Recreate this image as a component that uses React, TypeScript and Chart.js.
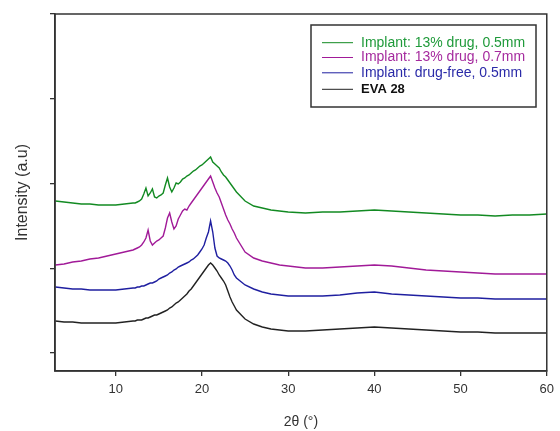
import React, { useEffect, useRef } from "react";
import { Chart, registerables } from "chart.js";

Chart.register(...registerables);

// 2θ positions (degrees)
const twoTheta = [
  3, 4, 5, 6, 7, 8, 9, 10, 11, 12,
  12.25, 12.5, 12.75, 13, 13.25, 13.5, 13.75, 14, 14.25, 14.5, 14.75, 15,
  15.25, 15.5, 15.75, 16, 16.25, 16.5, 16.75, 17, 17.25, 17.5, 17.75, 18,
  18.25, 18.5, 18.75, 19, 19.25, 19.5, 19.75, 20, 20.25, 20.5, 20.75, 21,
  21.25, 21.5, 21.75, 22, 22.25, 22.5, 22.75, 23, 23.25, 23.5, 23.75, 24,
  25, 26, 27, 28, 29, 30, 32, 34, 36, 38, 40, 42, 44, 46, 48, 50, 52, 54, 56, 58, 60,
];

// Intensities (a.u., vertically offset patterns)
const implant13_05 = [
  152, 151, 150, 149, 149, 148, 148, 148, 149, 150,
  150, 151, 152, 154, 159, 165, 157, 160, 164, 156, 155, 157,
  158, 160, 168, 175, 166, 161, 165, 170, 169, 171, 174, 175,
  177, 178, 180, 182, 183, 185, 187, 188, 190, 192, 194, 196,
  191, 189, 187, 185, 181, 178, 176, 173, 170, 167, 164, 161,
  152, 147, 145, 143, 142, 141, 140, 141, 141, 142, 143, 142, 141, 140, 139, 138, 138, 137, 138, 138, 139,
];

const implant13_07 = [
  88, 89, 91, 92, 94, 95, 97, 99, 101, 103,
  104, 105, 106, 108, 111, 115, 123, 112, 108, 110, 112, 113,
  115, 117, 125, 135, 140, 131, 124, 127, 134, 138, 142, 144,
  143, 147, 150, 153, 156, 159, 162, 165, 168, 171, 174, 177,
  171, 165, 160, 156, 150, 144, 138, 133, 129, 124, 120, 115,
  101, 95, 92, 90, 88, 87, 85, 85, 86, 87, 88, 87, 85, 83, 82, 81, 80, 79, 79, 79, 79,
];

const implantDrugFree = [
  66, 65, 64, 64, 63, 63, 63, 63, 64, 65,
  65, 66, 66, 67, 67, 68, 69, 70, 70, 71, 72, 74,
  75, 76, 77, 78, 80, 81, 83, 84, 86, 87, 88, 89,
  90, 91, 93, 94, 96, 98, 101, 104, 108, 115, 121, 132,
  121, 105, 97, 95, 94, 93, 92, 90, 87, 83, 78, 75,
  68, 64, 61, 59, 58, 57, 57, 57, 58, 60, 61, 59, 58, 57, 56, 55, 55, 54, 54, 54, 54,
];

const eva28 = [
  32, 31, 31, 30, 30, 30, 30, 30, 31, 32,
  32, 33, 33, 33, 34, 35, 35, 36, 37, 38, 38, 39,
  40, 41, 42, 43, 45, 46, 48, 50, 51, 53, 55, 57,
  59, 62, 64, 67, 70, 73, 76, 79, 82, 85, 88, 90,
  88, 85, 82, 78, 75, 72, 68, 62, 56, 51, 47, 43,
  34, 29, 26, 24, 23, 22, 22, 23, 24, 25, 26, 25, 24, 23, 22, 21, 21, 20, 20, 20, 20,
];

const seriesLabels = [
  "Implant: 13% drug, 0.5mm",
  "Implant: 13% drug, 0.7mm",
  "Implant: drug-free, 0.5mm",
  "EVA 28",
];
const seriesValues = [implant13_05, implant13_07, implantDrugFree, eva28];
const seriesColors = ["#128a22", "#a11a98", "#1f1fa0", "#222222"];
const legendTextColors = ["#1f9a3a", "#a52a9e", "#2a2aa8", "#111111"];

const xTickValues = [10, 20, 30, 40, 50, 60];
const yTickValues = [0, 84.75, 169.5, 254.25, 339];

const FONT = "'Liberation Sans', Arial, sans-serif";

const framePlugin = {
  id: "frameAndLegend",
  afterDraw(chart: any) {
    const { ctx, chartArea } = chart;
    ctx.save();
    ctx.strokeStyle = "#333";
    ctx.lineWidth = 1.5;
    ctx.strokeRect(
      chartArea.left,
      chartArea.top,
      chartArea.right - chartArea.left,
      chartArea.bottom - chartArea.top
    );

    // legend box
    const bx = 311, by = 25, bw = 225, bh = 82;
    ctx.fillStyle = "#fff";
    ctx.fillRect(bx, by, bw, bh);
    ctx.strokeStyle = "#333";
    ctx.lineWidth = 1.5;
    ctx.strokeRect(bx, by, bw, bh);
    const rows = [42.7, 57.5, 72.8, 89.3];
    chart.data.datasets.forEach((ds: any, i: number) => {
      const y = rows[i];
      ctx.strokeStyle = ds.borderColor;
      ctx.lineWidth = 1;
      ctx.beginPath();
      ctx.moveTo(322, y);
      ctx.lineTo(353, y);
      ctx.stroke();
      ctx.fillStyle = legendTextColors[i];
      ctx.font = (i === 3 ? "bold 13px " : "14px ") + FONT;
      ctx.textBaseline = "middle";
      ctx.textAlign = "left";
      ctx.fillText(ds.label, 361, y);
    });
    ctx.restore();
  },
};

export default function App() {
  const canvasRef = useRef<HTMLCanvasElement | null>(null);

  useEffect(() => {
    document.body.style.margin = "0";
    const canvas = canvasRef.current;
    if (!canvas) return;
    const chart = new Chart(canvas, {
      type: "line",
      data: {
        datasets: seriesValues.map((vals, i) => ({
          label: seriesLabels[i],
          data: twoTheta.map((x, j) => ({ x, y: vals[j] })),
          borderColor: seriesColors[i],
          backgroundColor: seriesColors[i],
          borderWidth: 1.4,
          pointRadius: 0,
          tension: 0,
          fill: false,
        })),
      },
      options: {
        responsive: false,
        animation: false,
        devicePixelRatio: 1,
        layout: { padding: { left: 10, top: 14, right: 9, bottom: 0 } },
        plugins: {
          legend: { display: false },
          tooltip: { enabled: false },
        },
        scales: {
          x: {
            type: "linear",
            min: 2.95,
            max: 60,
            afterBuildTicks: (s: any) => {
              s.ticks = xTickValues.map((v) => ({ value: v }));
            },
            afterFit: (s: any) => {
              s.height = 60;
            },
            ticks: {
              color: "#333",
              padding: 6,
              maxRotation: 0,
              font: { family: FONT, size: 13 },
            },
            grid: {
              drawOnChartArea: false,
              drawTicks: true,
              tickLength: 5,
              color: "#333",
              lineWidth: 1.3,
            },
            border: { display: true, color: "#333", width: 1.5 },
            title: {
              display: true,
              text: "2θ (°)",
              color: "#333",
              font: { family: FONT, size: 14 },
              padding: { top: 0, bottom: 0 },
            },
          },
          y: {
            type: "linear",
            min: -18,
            max: 339,
            afterBuildTicks: (s: any) => {
              s.ticks = yTickValues.map((v) => ({ value: v }));
            },
            afterFit: (s: any) => {
              s.width = 45;
            },
            ticks: { display: false },
            grid: {
              drawOnChartArea: false,
              drawTicks: true,
              tickLength: 5,
              color: "#333",
              lineWidth: 1.3,
            },
            border: { display: true, color: "#333", width: 1.5 },
            title: {
              display: true,
              text: "Intensity (a.u)",
              color: "#333",
              font: { family: FONT, size: 16 },
              padding: { top: 3, bottom: 0 },
            },
          },
        },
      },
      plugins: [framePlugin],
    });
    return () => chart.destroy();
  }, []);

  return (
    <div style={{ position: "absolute", left: 0, top: 0, width: 560, height: 431, background: "#fff" }}>
      <canvas ref={canvasRef} width={560} height={431} />
    </div>
  );
}
